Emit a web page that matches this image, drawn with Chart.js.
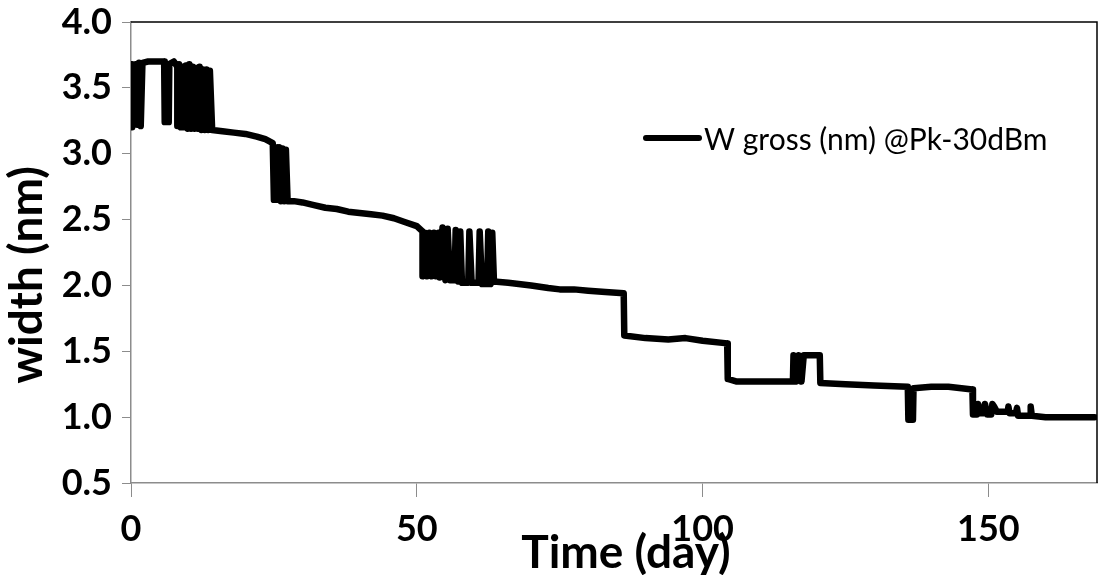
<!DOCTYPE html>
<html>
<head>
<meta charset="utf-8">
<script src="https://cdn.jsdelivr.net/npm/chart.js@4.4.0/dist/chart.umd.min.js"></script>
<style>
  html, body { margin: 0; padding: 0; background: #fff; }
  #wrap { width: 1104px; height: 575px; position: relative; }
</style>
</head>
<body>
<div id="wrap"><canvas id="lineChart"></canvas></div>
<script>
const days = [
    0.2, 0.2, 0.5, 0.8, 1.1, 1.4, 1.7, 2.0, 3.0, 4.5, 5.8, 5.9, 6.6, 6.7, 7.5,
    8.1, 8.1, 8.4, 8.7, 9.0, 9.3, 9.6, 9.9, 10.2, 10.5, 10.8, 11.1, 11.4, 11.7,
    12.0, 12.3, 12.6, 12.9, 13.2, 13.5, 13.8, 14.2,
    16.0, 18.0, 20.0, 22.0, 23.5, 24.8,
    25.0, 25.3, 25.6, 25.9, 26.2, 26.5, 26.8, 27.1, 27.4,
    28.5, 30.0, 32.0, 34.0, 36.0, 38.0, 40.0, 42.0, 44.0, 46.0, 48.0, 50.0,
    51.0, 51.0, 51.4, 51.8, 52.2, 52.6, 53.0, 53.4, 53.8, 54.0, 54.5, 55.0, 55.4, 55.8,
    56.6, 56.8, 57.2, 57.6, 57.9, 59.0, 59.2, 59.6, 60.8, 61.0, 61.4,
    62.3, 62.5, 62.9, 63.2, 63.5,
    66.0, 70.0, 73.0, 75.0, 77.5, 80.0, 83.0, 86.2,
    86.3, 90.0, 94.0, 97.0, 100.0, 104.3,
    104.4, 106.0, 110.0, 115.8,
    115.9, 116.4, 116.8, 117.3, 117.7, 120.5,
    120.6, 125.0, 130.0, 135.9,
    136.0, 136.8, 136.9, 140.0, 143.0, 147.2,
    147.3, 148.0, 148.2, 148.6, 149.2, 149.4, 149.8, 150.5, 150.7, 151.0, 151.5,
    152.2, 153.4, 153.5, 153.7, 154.8, 155.0, 155.2,
    157.3, 157.4, 157.6, 160.0, 165.0, 168.6
];
const widths = [
    3.20, 3.68, 3.22, 3.68, 3.22, 3.69, 3.21, 3.69, 3.70, 3.70, 3.70, 3.24, 3.24, 3.68, 3.70,
    3.66, 3.21, 3.68, 3.20, 3.66, 3.20, 3.67, 3.19, 3.68, 3.19, 3.66, 3.19, 3.65, 3.19,
    3.66, 3.18, 3.64, 3.18, 3.64, 3.18, 3.63, 3.18,
    3.17, 3.16, 3.15, 3.13, 3.11, 3.08,
    2.65, 3.05, 2.65, 3.05, 2.64, 3.04, 2.64, 3.03, 2.64,
    2.64, 2.63, 2.61, 2.59, 2.58, 2.56, 2.55, 2.54, 2.53, 2.51, 2.48, 2.45,
    2.41, 2.07, 2.40, 2.07, 2.40, 2.07, 2.40, 2.07, 2.40, 2.06, 2.44, 2.04, 2.43, 2.04,
    2.04, 2.42, 2.03, 2.41, 2.02, 2.02, 2.41, 2.02, 2.02, 2.41, 2.01,
    2.01, 2.41, 2.01, 2.40, 2.03,
    2.02, 2.00, 1.98, 1.97, 1.97, 1.96, 1.95, 1.94,
    1.62, 1.60, 1.59, 1.60, 1.58, 1.56,
    1.29, 1.27, 1.27, 1.27,
    1.47, 1.27, 1.47, 1.27, 1.47, 1.47,
    1.26, 1.25, 1.24, 1.23,
    0.98, 0.98, 1.22, 1.23, 1.23, 1.21,
    1.02, 1.02, 1.10, 1.03, 1.03, 1.10, 1.02, 1.02, 1.10, 1.08, 1.04,
    1.04, 1.04, 1.08, 1.03, 1.03, 1.07, 1.01,
    1.01, 1.08, 1.01, 1.00, 1.00, 1.00
];
const xTicks = [0, 50, 100, 150];
const yTicks = [0.5, 1.0, 1.5, 2.0, 2.5, 3.0, 3.5, 4.0];
const seriesName = 'W gross (nm) @Pk-30dBm';
const xTitle = 'Time (day)';
const yTitle = 'width (nm)';

const points = days.map((d, i) => ({ x: d, y: widths[i] }));

// plot frame (top/right), axis titles and the in-plot legend
const framePlugin = {
    id: 'frame',
    afterDraw(chart) {
        const { ctx, chartArea: a } = chart;
        ctx.save();
        ctx.strokeStyle = '#000';
        ctx.lineWidth = 1.5;
        ctx.beginPath();
        ctx.moveTo(a.left, a.top);
        ctx.lineTo(a.right, a.top);
        ctx.lineTo(a.right, a.bottom);
        ctx.stroke();

        ctx.fillStyle = '#000';
        ctx.textAlign = 'center';
        ctx.textBaseline = 'alphabetic';
        ctx.font = 'bold 46px Lato';
        ctx.fillText(xTitle, 626, 568);

        ctx.save();
        ctx.translate(42, 275);
        ctx.rotate(-Math.PI / 2);
        ctx.fillText(yTitle, 0, 0);
        ctx.restore();

        // legend
        ctx.lineWidth = 6;
        ctx.lineCap = 'round';
        ctx.beginPath();
        ctx.moveTo(646, 138);
        ctx.lineTo(699, 138);
        ctx.stroke();
        ctx.textAlign = 'left';
        ctx.textBaseline = 'middle';
        ctx.font = '30px Lato';
        ctx.fillText(seriesName, 704, 140);
        ctx.restore();
    }
};

const ctx = document.getElementById('lineChart').getContext('2d');

new Chart(ctx, {
    type: 'line',
    data: {
        datasets: [{
            label: seriesName,
            data: points,
            borderColor: '#000000',
            borderWidth: 6.5,
            borderCapStyle: 'round',
            borderJoinStyle: 'round',
            pointRadius: 0,
            tension: 0,
            fill: false
        }]
    },
    options: {
        responsive: true,
        maintainAspectRatio: false,
        animation: false,
        layout: {
            padding: { top: 22, right: 7, left: 0, bottom: 0 }
        },
        plugins: {
            legend: { display: false },
            tooltip: { enabled: false }
        },
        scales: {
            x: {
                type: 'linear',
                min: 0,
                max: 169,
                afterBuildTicks: (s) => { s.ticks = xTicks.map(v => ({ value: v })); },
                afterFit: (s) => { s.height = 92; },
                border: { color: '#8c8c8c', width: 1.5 },
                grid: { drawOnChartArea: false, drawTicks: true, tickLength: 14, color: '#8c8c8c' },
                ticks: {
                    color: '#000',
                    padding: 11,
                    font: { family: 'Lato', weight: 'bold', size: 36 }
                }
            },
            y: {
                min: 0.5,
                max: 4.0,
                afterBuildTicks: (s) => { s.ticks = yTicks.map(v => ({ value: v })); },
                afterFit: (s) => { s.width = 131; },
                border: { color: '#8c8c8c', width: 1.5 },
                grid: { drawOnChartArea: false, drawTicks: true, tickLength: 9, color: '#8c8c8c' },
                ticks: {
                    color: '#000',
                    padding: 10,
                    font: { family: 'Lato', weight: 'bold', size: 36, lineHeight: 0.6 },
                    callback: (v) => Number(v).toFixed(1)
                }
            }
        }
    },
    plugins: [framePlugin]
});
</script>
</body>
</html>
